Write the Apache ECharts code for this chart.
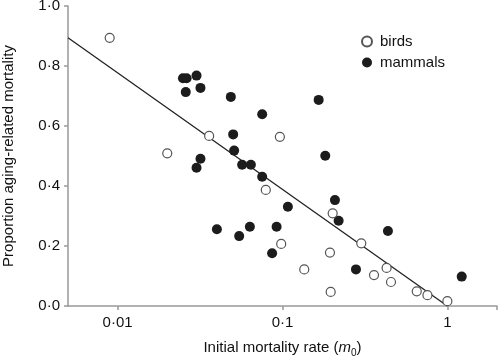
<!DOCTYPE html>
<html>
<head>
<meta charset="utf-8">
<script src="https://cdn.jsdelivr.net/npm/echarts@6/dist/echarts.min.js"></script>
<style>html,body{margin:0;padding:0;background:#fff}#c{width:498px;height:357px}</style>
</head>
<body>
<div id="c"></div>
<script>
// Birds (open circles): initial mortality rate m0, proportion aging-related mortality
var birdsX = [0.00895, 0.0200, 0.0359, 0.0964, 0.0792, 0.2015, 0.0982, 0.194, 0.1355, 0.196, 0.3005, 0.359, 0.428, 0.455, 0.652, 0.757, 1.0];
var birdsY = [0.894, 0.509, 0.567, 0.564, 0.387, 0.309, 0.207, 0.178, 0.122, 0.047, 0.209, 0.103, 0.127, 0.080, 0.049, 0.036, 0.016];
// Mammals (filled circles)
var mammalsX = [0.0249, 0.0262, 0.0301, 0.0259, 0.0318, 0.0486, 0.0502, 0.0509, 0.0318, 0.0301, 0.0569, 0.0643, 0.0753, 0.1657, 0.1817, 0.0753, 0.0400, 0.0546, 0.0634, 0.1078, 0.0921, 0.0865, 0.208, 0.219, 0.436, 0.279, 1.222];
var mammalsY = [0.759, 0.759, 0.768, 0.713, 0.727, 0.697, 0.572, 0.518, 0.491, 0.461, 0.471, 0.471, 0.639, 0.687, 0.501, 0.431, 0.256, 0.233, 0.264, 0.331, 0.264, 0.176, 0.353, 0.284, 0.250, 0.122, 0.098];
// Fitted regression line endpoints
var fitX = [0.005, 1.0];
var fitY = [0.894, 0.0];
var xTicks = [0.01, 0.1, 1];
var yTicks = [0, 0.2, 0.4, 0.6, 0.8, 1.0];

function pairs(xs, ys){ return xs.map(function(x,i){ return [x, ys[i]]; }); }

var font = 'Liberation Sans, Arial, sans-serif';
var txt = '#111';
var chart = echarts.init(document.getElementById('c'));
chart.setOption({
  animation: false,
  grid: { left: 68, right: 1, top: 6, bottom: 51, containLabel: false, outerBoundsMode: 'none' },
  legend: {
    orient: 'vertical', left: 356, top: 29,
    itemWidth: 16, itemHeight: 10, itemGap: 6,
    textStyle: { fontFamily: font, fontSize: 15, color: txt },
    data: ['birds', 'mammals']
  },
  xAxis: {
    type: 'log', logBase: 10, min: 0.005, max: 2,
    name: '{a|Initial mortality rate (}{i|m}{s|0}{a|)}',
    nameLocation: 'middle', nameGap: 34,
    nameTextStyle: {
      rich: {
        a: { fontFamily: font, fontSize: 15, lineHeight: 16, color: txt, verticalAlign: 'top' },
        i: { fontFamily: font, fontSize: 15, lineHeight: 16, color: txt, fontStyle: 'italic', verticalAlign: 'top' },
        s: { fontFamily: font, fontSize: 10, lineHeight: 10, color: txt, verticalAlign: 'top', padding: [8, 0, 0, 0] }
      }
    },
    axisLine: { lineStyle: { color: '#999', width: 1.5 } },
    axisTick: { show: true, inside: false, length: 4, lineStyle: { color: '#999', width: 1.5 }, customValues: xTicks.concat([2]) },
    axisLabel: {
      customValues: xTicks,
      fontFamily: font, fontSize: 15, color: txt, margin: 9,
      formatter: function(v){ return String(v).replace('.', '\u00b7'); }
    },
    splitLine: { show: false }
  },
  yAxis: {
    type: 'value', min: 0, max: 1, interval: 0.2,
    name: 'Proportion aging-related mortality',
    nameLocation: 'middle', nameGap: 52, nameRotate: 90,
    nameTextStyle: { fontFamily: font, fontSize: 15, color: txt },
    axisLine: { show: true, lineStyle: { color: '#999', width: 1.5 } },
    axisTick: { show: true, inside: false, length: 4, lineStyle: { color: '#999', width: 1.5 } },
    axisLabel: {
      fontFamily: font, fontSize: 15, color: txt, margin: 8,
      formatter: function(v){ return v.toFixed(1).replace('.', '\u00b7'); }
    },
    splitLine: { show: false }
  },
  series: [
    {
      name: 'fit', type: 'line', data: pairs(fitX, fitY), showSymbol: false, symbol: 'none',
      lineStyle: { color: '#222', width: 1.3 }, z: 1, silent: true
    },
    {
      name: 'birds', type: 'scatter', data: pairs(birdsX, birdsY), symbol: 'circle', symbolSize: 9,
      itemStyle: { color: '#fff', borderColor: '#555', borderWidth: 1.2, opacity: 1 }, z: 3
    },
    {
      name: 'mammals', type: 'scatter', data: pairs(mammalsX, mammalsY), symbol: 'circle', symbolSize: 10,
      itemStyle: { color: '#1c1c1c', opacity: 1 }, z: 2
    }
  ]
});
</script>
</body>
</html>
